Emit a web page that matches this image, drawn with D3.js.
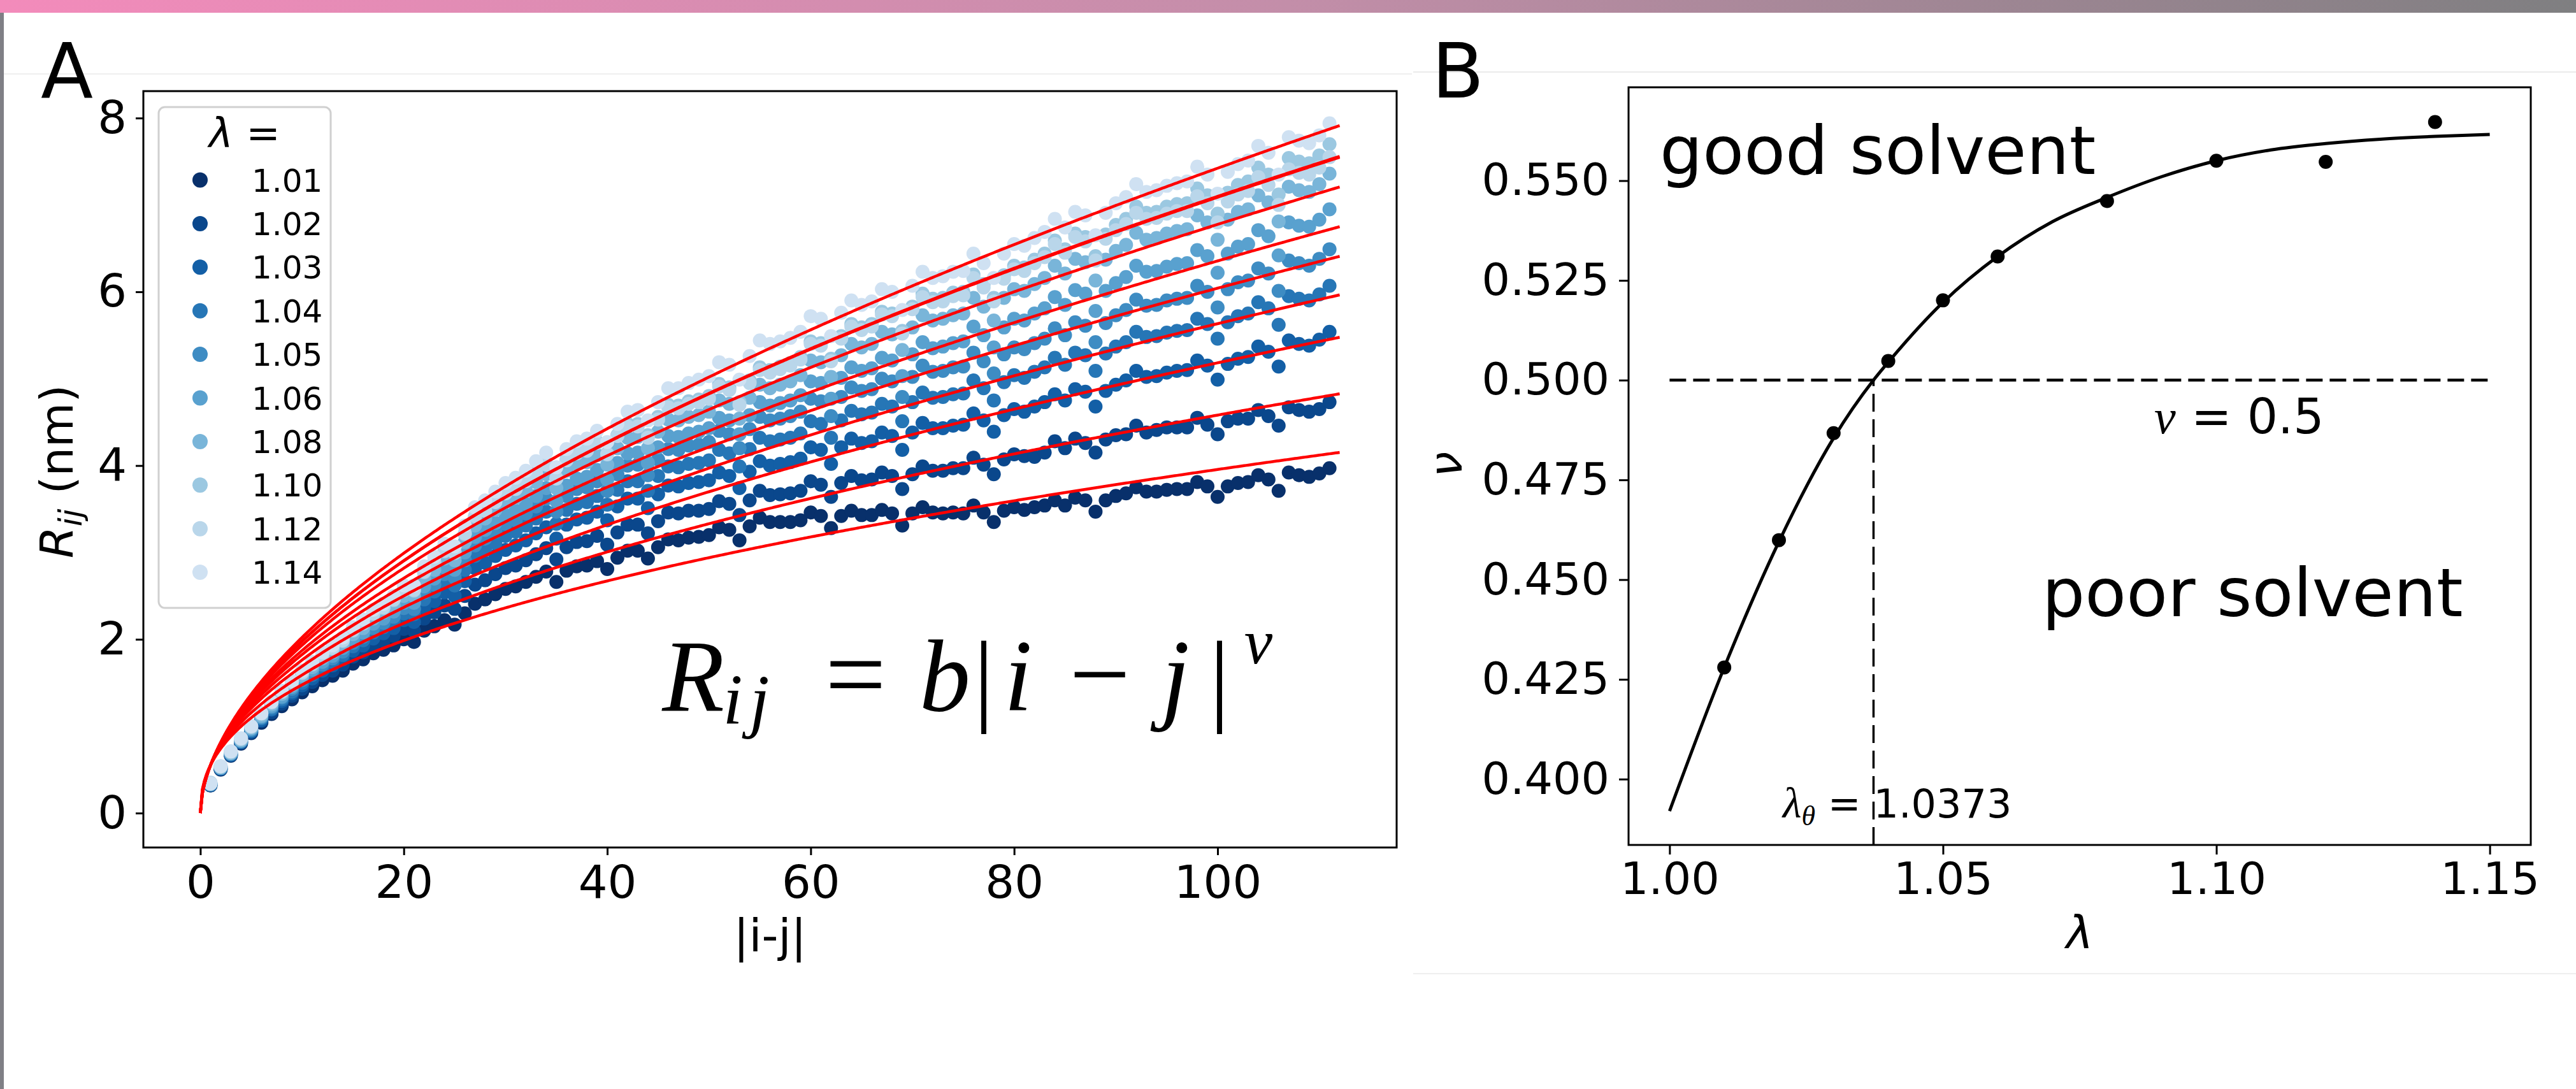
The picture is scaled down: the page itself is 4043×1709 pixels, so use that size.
<!DOCTYPE html>
<html>
<head>
<meta charset="utf-8">
<script src="https://cdn.jsdelivr.net/npm/d3@7"></script>
<style>
  body { margin: 0; background: #fff; }
  svg { display: block; }
</style>
</head>
<body>
<div id="chart"></div>
<script>
//
// Panel A data: R_ij (nm) against |i-j| for each lambda
//
const lambdaLabels = ['1.01', '1.02', '1.03', '1.04', '1.05', '1.06', '1.08', '1.10', '1.12', '1.14']
const colourPositions = [1.0, 0.911, 0.822, 0.733, 0.644, 0.556, 0.467, 0.378, 0.289, 0.2]
const separation = d3.range(1, 112) // |i-j| = 1 .. 111

const r101 = [0.32, 0.50, 0.66, 0.80, 0.92, 1.04, 1.14, 1.23, 1.31, 1.39,
  1.46, 1.53, 1.58, 1.64, 1.72, 1.77, 1.84, 1.88, 1.93, 2.00,
  1.97, 2.10, 2.15, 2.22, 2.17, 2.30, 2.41, 2.46, 2.52, 2.58,
  2.61, 2.66, 2.72, 2.78, 2.66, 2.79, 2.84, 2.85, 2.90, 2.81,
  2.94, 3.02, 3.02, 2.93, 3.06, 3.15, 3.14, 3.17, 3.18, 3.20,
  3.29, 3.26, 3.14, 3.30, 3.40, 3.35, 3.35, 3.35, 3.37, 3.46,
  3.42, 3.28, 3.42, 3.48, 3.43, 3.43, 3.49, 3.45, 3.31, 3.45,
  3.52, 3.46, 3.45, 3.46, 3.45, 3.54, 3.46, 3.35, 3.48, 3.52,
  3.49, 3.52, 3.54, 3.60, 3.54, 3.63, 3.60, 3.47, 3.60, 3.65,
  3.68, 3.75, 3.70, 3.70, 3.72, 3.73, 3.73, 3.81, 3.76, 3.64,
  3.76, 3.80, 3.81, 3.89, 3.84, 3.71, 3.92, 3.89, 3.87, 3.91, 3.97]
const r102 = [0.32, 0.51, 0.67, 0.81, 0.93, 1.06, 1.16, 1.26, 1.35, 1.43,
  1.51, 1.59, 1.64, 1.71, 1.80, 1.85, 1.93, 1.98, 2.04, 2.12,
  2.10, 2.24, 2.31, 2.39, 2.35, 2.50, 2.63, 2.68, 2.75, 2.82,
  2.85, 2.91, 2.98, 3.05, 2.92, 3.06, 3.12, 3.13, 3.19, 3.09,
  3.23, 3.32, 3.32, 3.22, 3.36, 3.46, 3.45, 3.48, 3.48, 3.50,
  3.59, 3.56, 3.43, 3.60, 3.71, 3.66, 3.67, 3.68, 3.71, 3.82,
  3.78, 3.64, 3.80, 3.88, 3.83, 3.84, 3.92, 3.88, 3.73, 3.90,
  3.99, 3.94, 3.94, 3.97, 3.97, 4.09, 4.01, 3.90, 4.07, 4.13,
  4.11, 4.10, 4.15, 4.28, 4.20, 4.31, 4.26, 4.15, 4.30, 4.35,
  4.36, 4.46, 4.38, 4.41, 4.44, 4.44, 4.44, 4.55, 4.47, 4.36,
  4.51, 4.54, 4.54, 4.64, 4.57, 4.46, 4.67, 4.64, 4.62, 4.65, 4.73]
const r103 = [0.33, 0.51, 0.67, 0.82, 0.94, 1.07, 1.19, 1.29, 1.38, 1.47,
  1.55, 1.64, 1.70, 1.77, 1.87, 1.93, 2.01, 2.07, 2.13, 2.22,
  2.20, 2.37, 2.44, 2.54, 2.50, 2.67, 2.82, 2.88, 2.96, 3.03,
  3.08, 3.14, 3.22, 3.29, 3.16, 3.32, 3.38, 3.40, 3.47, 3.37,
  3.53, 3.62, 3.62, 3.51, 3.67, 3.77, 3.76, 3.80, 3.81, 3.83,
  3.92, 3.88, 3.74, 3.93, 4.05, 4.00, 4.02, 4.04, 4.08, 4.21,
  4.18, 4.02, 4.21, 4.31, 4.26, 4.28, 4.38, 4.34, 4.18, 4.38,
  4.49, 4.43, 4.43, 4.46, 4.47, 4.60, 4.52, 4.39, 4.58, 4.65,
  4.62, 4.68, 4.73, 4.82, 4.75, 4.88, 4.85, 4.68, 4.86, 4.93,
  4.98, 5.09, 5.02, 5.03, 5.07, 5.09, 5.10, 5.21, 5.15, 4.99,
  5.17, 5.23, 5.25, 5.37, 5.31, 5.14, 5.44, 5.40, 5.38, 5.45, 5.54]
const r104 = [0.33, 0.52, 0.68, 0.82, 0.95, 1.09, 1.20, 1.31, 1.40, 1.50,
  1.59, 1.67, 1.74, 1.82, 1.92, 1.99, 2.08, 2.14, 2.21, 2.30,
  2.29, 2.46, 2.55, 2.66, 2.62, 2.80, 2.96, 3.03, 3.11, 3.19,
  3.24, 3.31, 3.39, 3.47, 3.33, 3.49, 3.56, 3.58, 3.65, 3.55,
  3.72, 3.82, 3.82, 3.71, 3.88, 3.99, 3.98, 4.02, 4.03, 4.06,
  4.18, 4.14, 3.99, 4.19, 4.32, 4.28, 4.30, 4.32, 4.37, 4.51,
  4.48, 4.32, 4.52, 4.63, 4.59, 4.61, 4.71, 4.68, 4.51, 4.73,
  4.84, 4.78, 4.79, 4.82, 4.83, 4.98, 4.89, 4.75, 4.96, 5.04,
  5.01, 5.08, 5.13, 5.24, 5.16, 5.30, 5.27, 5.09, 5.29, 5.37,
  5.42, 5.54, 5.48, 5.49, 5.53, 5.55, 5.56, 5.69, 5.63, 5.46,
  5.65, 5.72, 5.75, 5.88, 5.81, 5.62, 5.95, 5.92, 5.90, 5.97, 6.07]
const r105 = [0.33, 0.52, 0.68, 0.83, 0.96, 1.10, 1.22, 1.33, 1.43, 1.53,
  1.62, 1.71, 1.78, 1.86, 1.96, 2.03, 2.13, 2.19, 2.26, 2.36,
  2.35, 2.54, 2.63, 2.75, 2.71, 2.91, 3.08, 3.16, 3.24, 3.33,
  3.37, 3.45, 3.53, 3.62, 3.47, 3.65, 3.73, 3.75, 3.82, 3.71,
  3.90, 4.00, 4.01, 3.89, 4.07, 4.19, 4.18, 4.23, 4.24, 4.27,
  4.40, 4.36, 4.20, 4.42, 4.56, 4.52, 4.54, 4.57, 4.62, 4.77,
  4.74, 4.57, 4.79, 4.90, 4.86, 4.88, 5.00, 4.97, 4.79, 5.02,
  5.15, 5.08, 5.09, 5.13, 5.14, 5.30, 5.20, 5.06, 5.28, 5.36,
  5.34, 5.41, 5.46, 5.58, 5.50, 5.65, 5.61, 5.42, 5.64, 5.73,
  5.79, 5.91, 5.84, 5.85, 5.90, 5.92, 5.93, 6.07, 6.00, 5.82,
  6.03, 6.11, 6.13, 6.27, 6.21, 6.01, 6.36, 6.33, 6.30, 6.38, 6.49]
const r106 = [0.33, 0.52, 0.69, 0.83, 0.97, 1.11, 1.23, 1.34, 1.45, 1.56,
  1.65, 1.74, 1.81, 1.90, 2.00, 2.08, 2.18, 2.24, 2.32, 2.42,
  2.42, 2.61, 2.70, 2.83, 2.80, 3.00, 3.18, 3.26, 3.34, 3.43,
  3.48, 3.56, 3.65, 3.74, 3.59, 3.77, 3.85, 3.87, 3.95, 3.84,
  4.03, 4.14, 4.15, 4.03, 4.21, 4.34, 4.33, 4.37, 4.39, 4.43,
  4.55, 4.52, 4.36, 4.58, 4.73, 4.69, 4.72, 4.75, 4.81, 4.97,
  4.95, 4.77, 5.01, 5.13, 5.09, 5.12, 5.24, 5.21, 5.03, 5.28,
  5.42, 5.35, 5.37, 5.41, 5.43, 5.60, 5.50, 5.36, 5.59, 5.69,
  5.67, 5.75, 5.81, 5.94, 5.85, 6.02, 5.98, 5.78, 6.01, 6.10,
  6.17, 6.30, 6.23, 6.24, 6.29, 6.32, 6.33, 6.48, 6.41, 6.22,
  6.44, 6.52, 6.55, 6.71, 6.64, 6.42, 6.80, 6.76, 6.75, 6.83, 6.95]
const r108 = [0.34, 0.53, 0.69, 0.84, 0.98, 1.12, 1.25, 1.37, 1.47, 1.58,
  1.68, 1.78, 1.85, 1.94, 2.06, 2.13, 2.24, 2.31, 2.39, 2.50,
  2.50, 2.70, 2.80, 2.93, 2.91, 3.12, 3.31, 3.39, 3.49, 3.58,
  3.63, 3.71, 3.81, 3.90, 3.74, 3.94, 4.02, 4.04, 4.12, 4.01,
  4.20, 4.32, 4.33, 4.20, 4.39, 4.53, 4.52, 4.56, 4.58, 4.62,
  4.75, 4.71, 4.54, 4.78, 4.93, 4.89, 4.93, 4.97, 5.04, 5.21,
  5.19, 5.02, 5.27, 5.40, 5.36, 5.40, 5.54, 5.51, 5.33, 5.59,
  5.73, 5.67, 5.69, 5.73, 5.75, 5.93, 5.83, 5.67, 5.93, 6.03,
  6.01, 6.09, 6.16, 6.30, 6.21, 6.38, 6.34, 6.13, 6.37, 6.47,
  6.54, 6.68, 6.60, 6.62, 6.67, 6.70, 6.72, 6.88, 6.80, 6.60,
  6.83, 6.92, 6.95, 7.11, 7.03, 6.81, 7.21, 7.17, 7.15, 7.24, 7.36]
const r110 = [0.34, 0.53, 0.70, 0.85, 0.99, 1.14, 1.27, 1.39, 1.50, 1.61,
  1.71, 1.81, 1.89, 1.98, 2.10, 2.18, 2.29, 2.36, 2.45, 2.56,
  2.56, 2.77, 2.88, 3.01, 2.99, 3.21, 3.41, 3.49, 3.59, 3.69,
  3.74, 3.83, 3.92, 4.02, 3.86, 4.07, 4.15, 4.18, 4.27, 4.14,
  4.35, 4.48, 4.48, 4.35, 4.56, 4.70, 4.69, 4.74, 4.76, 4.80,
  4.94, 4.90, 4.73, 4.98, 5.13, 5.10, 5.14, 5.18, 5.25, 5.43,
  5.41, 5.23, 5.49, 5.63, 5.59, 5.63, 5.77, 5.75, 5.55, 5.83,
  5.98, 5.92, 5.93, 5.99, 6.00, 6.20, 6.09, 5.93, 6.19, 6.30,
  6.28, 6.37, 6.44, 6.59, 6.49, 6.67, 6.63, 6.41, 6.66, 6.77,
  6.84, 6.98, 6.91, 6.92, 6.98, 7.01, 7.02, 7.19, 7.11, 6.90,
  7.14, 7.23, 7.27, 7.43, 7.35, 7.12, 7.54, 7.50, 7.48, 7.57, 7.70]
const r112 = [0.35, 0.54, 0.71, 0.86, 1.00, 1.15, 1.28, 1.40, 1.51, 1.62,
  1.72, 1.82, 1.90, 1.99, 2.11, 2.19, 2.30, 2.37, 2.46, 2.57,
  2.57, 2.78, 2.89, 3.02, 3.00, 3.22, 3.42, 3.48, 3.58, 3.68,
  3.73, 3.82, 3.91, 4.01, 3.85, 4.06, 4.14, 4.17, 4.26, 4.13,
  4.34, 4.45, 4.45, 4.32, 4.53, 4.67, 4.66, 4.71, 4.73, 4.77,
  4.91, 4.87, 4.70, 4.95, 5.10, 5.07, 5.11, 5.15, 5.22, 5.40,
  5.38, 5.20, 5.46, 5.60, 5.56, 5.60, 5.74, 5.72, 5.52, 5.80,
  5.94, 5.88, 5.89, 5.95, 5.96, 6.16, 6.05, 5.89, 6.15, 6.26,
  6.24, 6.33, 6.40, 6.55, 6.45, 6.63, 6.58, 6.36, 6.61, 6.71,
  6.78, 6.91, 6.84, 6.85, 6.90, 6.93, 6.93, 7.10, 7.02, 6.80,
  7.04, 7.12, 7.16, 7.32, 7.23, 7.00, 7.41, 7.37, 7.35, 7.43, 7.55]
const r114 = [0.34, 0.54, 0.71, 0.86, 1.00, 1.15, 1.28, 1.41, 1.52, 1.64,
  1.74, 1.85, 1.93, 2.02, 2.14, 2.23, 2.34, 2.41, 2.50, 2.62,
  2.62, 2.84, 2.95, 3.10, 3.07, 3.31, 3.52, 3.60, 3.70, 3.80,
  3.86, 3.94, 4.05, 4.15, 3.98, 4.19, 4.28, 4.31, 4.40, 4.27,
  4.48, 4.62, 4.64, 4.52, 4.73, 4.89, 4.89, 4.95, 4.99, 5.03,
  5.19, 5.16, 4.99, 5.26, 5.44, 5.40, 5.43, 5.47, 5.54, 5.72,
  5.69, 5.49, 5.76, 5.90, 5.85, 5.89, 6.03, 6.00, 5.79, 6.07,
  6.23, 6.16, 6.18, 6.23, 6.24, 6.44, 6.33, 6.16, 6.44, 6.55,
  6.53, 6.62, 6.69, 6.84, 6.74, 6.92, 6.88, 6.65, 6.91, 7.02,
  7.09, 7.24, 7.15, 7.17, 7.22, 7.25, 7.27, 7.44, 7.35, 7.13,
  7.38, 7.47, 7.51, 7.68, 7.60, 7.35, 7.78, 7.74, 7.71, 7.80, 7.94]
const seriesValues = [r101, r102, r103, r104, r105, r106, r108, r110, r112, r114]

// fit R_ij = b|i-j|^nu, nu from panel B, one prefactor b
const fitB = 0.551
const fitMaxSeparation = 112
const xTicksA = [0, 20, 40, 60, 80, 100]
const yTicksA = [0, 2, 4, 6, 8]

//
// Panel B data: exponent nu against lambda
//
const lambdaValues = [1.01, 1.02, 1.03, 1.04, 1.05, 1.06, 1.08, 1.10, 1.12, 1.14]
const nuValues = [0.428, 0.4599, 0.4867, 0.5048, 0.5200, 0.5310, 0.5449, 0.5550, 0.5547, 0.5647]
const curveLambda = [1.00, 1.01, 1.02, 1.03, 1.0373, 1.04, 1.05, 1.06, 1.07, 1.08, 1.09, 1.10, 1.11, 1.12, 1.13, 1.14, 1.15]
const curveNu = [0.392, 0.428, 0.4595, 0.4855, 0.500, 0.5045, 0.5195, 0.5310, 0.5397, 0.5458, 0.5510, 0.5550, 0.5577, 0.5593, 0.5604, 0.5611, 0.5616]
const lambdaTheta = 1.0373
const nuTheta = 0.5
const xTicksB = [1.00, 1.05, 1.10, 1.15]
const yTicksB = [0.400, 0.425, 0.450, 0.475, 0.500, 0.525, 0.550]

const W = 4043
const H = 1709
const SANS = 'DejaVu Sans, Verdana, sans-serif'
const SERIF = 'Liberation Serif, DejaVu Serif, serif'

const svg = d3.select('#chart').append('svg')
  .attr('width', W)
  .attr('height', H)
  .attr('font-family', SANS)

//
// page decoration: coloured strip on top, grey edge on the left
//
const defs = svg.append('defs')
const topGrad = defs.append('linearGradient').attr('id', 'topbar')
  .attr('x1', '0%').attr('x2', '100%')
topGrad.selectAll('stop')
  .data([[0, '#f38bbb'], [0.5, '#c38ea9'], [1, '#7f7f81']])
  .enter().append('stop')
  .attr('offset', d => d[0])
  .attr('stop-color', d => d[1])
svg.append('rect').attr('x', 0).attr('y', 0).attr('width', W).attr('height', 20).attr('fill', 'url(#topbar)')
svg.append('rect').attr('x', 0).attr('y', 20).attr('width', 6).attr('height', H - 20).attr('fill', '#7f7f85')
svg.append('line').attr('x1', 6).attr('x2', 2216).attr('y1', 116).attr('y2', 116).attr('stroke', '#efefef').attr('stroke-width', 2)
svg.append('line').attr('x1', 2218).attr('x2', W).attr('y1', 113).attr('y2', 113).attr('stroke', '#ebebeb').attr('stroke-width', 2)
svg.append('line').attr('x1', 2218).attr('x2', W).attr('y1', 1528).attr('y2', 1528).attr('stroke', '#efefef').attr('stroke-width', 2)

//
// helper to style an axis group
//
function styleAxis (g, size) {
  g.select('.domain').remove()
  g.attr('font-family', SANS).attr('font-size', size)
  g.selectAll('.tick line').attr('stroke', '#000').attr('stroke-width', 3)
  g.selectAll('.tick text').attr('fill', '#000')
}

// ---------------------------------------------------------------------------
// Panel A
// ---------------------------------------------------------------------------
const A = { left: 225, top: 143, right: 2192, bottom: 1330 }
const xA = d3.scaleLinear().domain([-5.6, 117.6]).range([A.left, A.right])
const yA = d3.scaleLinear().domain([-0.396, 8.31]).range([A.bottom, A.top])
const colourA = lambdaLabels.map((d, i) => d3.interpolateBlues(colourPositions[i]))

// scatter, darkest first so the lightest series lies on top
seriesValues.forEach(function (vals, k) {
  svg.append('g')
    .selectAll('circle')
    .data(separation.map((s, i) => [s, vals[i]]))
    .enter().append('circle')
    .attr('cx', d => xA(d[0]))
    .attr('cy', d => yA(d[1]))
    .attr('r', 11)
    .attr('fill', colourA[k])
})

// fitted curves (drawn above the dots)
const fitX = d3.range(0, fitMaxSeparation + 0.001, 0.2)
const fitLine = d3.line().x(d => xA(d[0])).y(d => yA(d[1]))
nuValues.forEach(function (nu) {
  svg.append('path')
    .datum(fitX.map(s => [s, fitB * Math.pow(s, nu)]))
    .attr('d', fitLine)
    .attr('fill', 'none')
    .attr('stroke', '#ff0000')
    .attr('stroke-width', 4.5)
})

// axes
const gxA = svg.append('g')
  .attr('transform', 'translate(0,' + A.bottom + ')')
  .call(d3.axisBottom(xA).tickValues(xTicksA).tickSize(12).tickPadding(16).tickFormat(d3.format('d')))
styleAxis(gxA, 72)
const gyA = svg.append('g')
  .attr('transform', 'translate(' + A.left + ',0)')
  .call(d3.axisLeft(yA).tickValues(yTicksA).tickSize(12).tickPadding(14).tickFormat(d3.format('d')))
styleAxis(gyA, 72)
svg.append('rect')
  .attr('x', A.left).attr('y', A.top)
  .attr('width', A.right - A.left).attr('height', A.bottom - A.top)
  .attr('fill', 'none').attr('stroke', '#000').attr('stroke-width', 3)

svg.append('text')
  .attr('x', (A.left + A.right) / 2).attr('y', 1493)
  .attr('text-anchor', 'middle').attr('font-size', 72)
  .text('|i-j|')

const yLabA = svg.append('text')
  .attr('transform', 'translate(114,740) rotate(-90)')
  .attr('text-anchor', 'middle').attr('font-size', 72)
yLabA.append('tspan').attr('font-style', 'italic').text('R')
yLabA.append('tspan').attr('font-style', 'italic').attr('font-size', 50).attr('dy', 14).text('ij')
yLabA.append('tspan').attr('dy', -14).text(' (nm)')

// legend
const legend = svg.append('g')
legend.append('rect')
  .attr('x', 249).attr('y', 168).attr('width', 270).attr('height', 786)
  .attr('rx', 10)
  .attr('fill', '#fff').attr('fill-opacity', 0.8)
  .attr('stroke', '#d0d0d0').attr('stroke-width', 3)
const legTitle = legend.append('text')
  .attr('x', 384).attr('y', 231)
  .attr('text-anchor', 'middle').attr('font-size', 64)
legTitle.append('tspan').attr('font-style', 'italic').text('λ')
legTitle.append('tspan').text(' =')
const legRows = legend.selectAll('g.row')
  .data(lambdaLabels)
  .enter().append('g')
  .attr('class', 'row')
  .attr('transform', (d, i) => 'translate(0,' + (282.5 + 68.4 * i) + ')')
legRows.append('circle').attr('cx', 314).attr('cy', 0).attr('r', 12).attr('fill', (d, i) => colourA[i])
legRows.append('text').attr('x', 395).attr('y', 18).attr('font-size', 50).text(d => d)

// formula
const formula = svg.append('g').attr('font-family', SERIF).attr('fill', '#000')
const formulaParts = [
  { t: 'R', x: 1088, y: 1115, s: 160, it: true },
  { t: 'i', x: 1150, y: 1136, s: 112, it: true },
  { t: 'j', x: 1192, y: 1136, s: 112, it: true },
  { t: '=', x: 1343, y: 1115, s: 170, it: false },
  { t: 'b', x: 1483, y: 1115, s: 160, it: true },
  { t: '|', x: 1544, y: 1118, s: 160, it: false },
  { t: 'i', x: 1598, y: 1115, s: 160, it: true },
  { t: '−', x: 1726, y: 1115, s: 170, it: false },
  { t: 'j', x: 1845, y: 1115, s: 160, it: true },
  { t: '|', x: 1914, y: 1118, s: 160, it: false },
  { t: 'ν', x: 1975, y: 1041, s: 100, it: true }
]
formula.selectAll('text')
  .data(formulaParts)
  .enter().append('text')
  .attr('x', d => d.x).attr('y', d => d.y)
  .attr('text-anchor', 'middle')
  .attr('font-size', d => d.s)
  .attr('font-style', d => d.it ? 'italic' : 'normal')
  .text(d => d.t)

svg.append('text').attr('x', 64).attr('y', 153).attr('font-size', 120).text('A')

// ---------------------------------------------------------------------------
// Panel B
// ---------------------------------------------------------------------------
const B = { left: 2556, top: 137, right: 3972, bottom: 1326 }
const xB = d3.scaleLinear().domain([0.9925, 1.1575]).range([B.left, B.right])
const yB = d3.scaleLinear().domain([0.3835, 0.5734]).range([B.bottom, B.top])

// guide lines
svg.append('line')
  .attr('x1', xB(1.00)).attr('x2', xB(1.15))
  .attr('y1', yB(nuTheta)).attr('y2', yB(nuTheta))
  .attr('stroke', '#000').attr('stroke-width', 4.5).attr('stroke-dasharray', '26,11')
svg.append('line')
  .attr('x1', xB(lambdaTheta)).attr('x2', xB(lambdaTheta))
  .attr('y1', B.bottom).attr('y2', yB(nuTheta))
  .attr('stroke', '#000').attr('stroke-width', 3.5).attr('stroke-dasharray', '28,12')

// fitted curve
svg.append('path')
  .datum(curveLambda.map((l, i) => [l, curveNu[i]]))
  .attr('d', d3.line().x(d => xB(d[0])).y(d => yB(d[1])).curve(d3.curveMonotoneX))
  .attr('fill', 'none').attr('stroke', '#000').attr('stroke-width', 5)

// measured exponents
svg.append('g')
  .selectAll('circle')
  .data(lambdaValues.map((l, i) => [l, nuValues[i]]))
  .enter().append('circle')
  .attr('cx', d => xB(d[0]))
  .attr('cy', d => yB(d[1]))
  .attr('r', 11)
  .attr('fill', '#000')

const gxB = svg.append('g')
  .attr('transform', 'translate(0,' + B.bottom + ')')
  .call(d3.axisBottom(xB).tickValues(xTicksB).tickSize(15).tickPadding(12).tickFormat(d3.format('.2f')))
styleAxis(gxB, 70)
const gyB = svg.append('g')
  .attr('transform', 'translate(' + B.left + ',0)')
  .call(d3.axisLeft(yB).tickValues(yTicksB).tickSize(15).tickPadding(15).tickFormat(d3.format('.3f')))
styleAxis(gyB, 70)
svg.append('rect')
  .attr('x', B.left).attr('y', B.top)
  .attr('width', B.right - B.left).attr('height', B.bottom - B.top)
  .attr('fill', 'none').attr('stroke', '#000').attr('stroke-width', 3)

svg.append('text')
  .attr('x', (B.left + B.right) / 2).attr('y', 1488)
  .attr('text-anchor', 'middle').attr('font-size', 72).attr('font-style', 'italic')
  .text('λ')
svg.append('text')
  .attr('transform', 'translate(2294,729) rotate(-90)')
  .attr('text-anchor', 'middle').attr('font-size', 72).attr('font-style', 'italic')
  .text('ν')

svg.append('text').attr('x', 2605).attr('y', 273).attr('font-size', 106).text('good solvent')
svg.append('text').attr('x', 3205).attr('y', 967).attr('font-size', 106).text('poor solvent')

const nuLab = svg.append('text').attr('x', 3381).attr('y', 680).attr('font-size', 76)
nuLab.append('tspan').attr('font-family', SERIF).attr('font-style', 'italic').text('ν')
nuLab.append('tspan').text(' = 0.5')

const thetaLab = svg.append('text').attr('x', 2798).attr('y', 1283).attr('font-size', 62)
thetaLab.append('tspan').attr('font-family', SERIF).attr('font-style', 'italic').attr('font-size', 68).text('λ')
thetaLab.append('tspan').attr('font-family', SERIF).attr('font-style', 'italic').attr('font-size', 44).attr('dy', 12).text('θ')
thetaLab.append('tspan').attr('dy', -12).text(' = 1.0373')

svg.append('text').attr('x', 2247).attr('y', 153).attr('font-size', 120).text('B')
</script>
</body>
</html>
